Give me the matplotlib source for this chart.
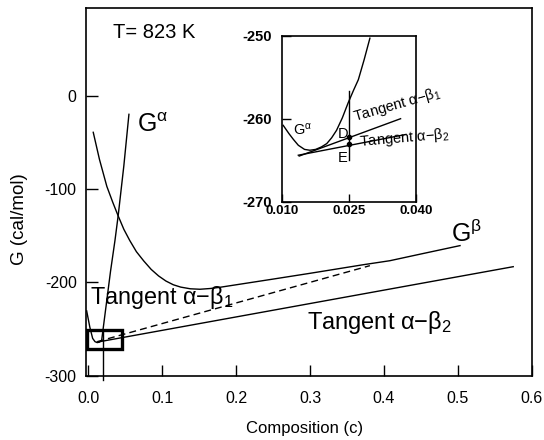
# Gibbs energy curves at 823 K with common tangents, plus zoomed inset.

import matplotlib
matplotlib.use("Agg")
import matplotlib.pyplot as plt
from matplotlib import font_manager
from matplotlib.patches import Rectangle

# --- data ---
# main plot
ga_c = [-0.0023, 0.002, 0.0058, 0.009, 0.012, 0.015, 0.018, 0.024, 0.030, 0.036, 0.0404, 0.048, 0.0549]
ga_g = [-230.5, -248.0, -260.0, -263.5, -264.5, -264.0, -262.0, -225.0, -188.0, -155.0, -128.0, -75.0, -19.7]

gb_c = [0.0066, 0.015, 0.025, 0.033, 0.040, 0.048, 0.056, 0.065, 0.075, 0.085, 0.095,
        0.105, 0.115, 0.125, 0.138, 0.151, 0.165, 0.178, 0.25, 0.30, 0.372, 0.408, 0.45, 0.503]
gb_g = [-39.0, -68.0, -97.0, -114.0, -128.0, -143.0, -155.0, -167.0, -177.0, -186.0, -193.0,
        -198.5, -202.5, -205.0, -206.8, -207.3, -206.5, -205.2, -196.4, -190.2, -181.0, -176.7,
        -169.5, -160.5]

tan1_c = [0.012, 0.381]        # tangent alpha-beta1 (dashed)
tan1_g = [-263.5, -182.0]
tan2_c = [0.012, 0.575]        # tangent alpha-beta2
tan2_g = [-264.0, -183.1]

mark_c = [0.0193, 0.0193]
mark_g = [-252.0, -305.0]

box_c = (-0.0015, 0.045)
box_g = (-271.6, -250.9)

# inset
gai_c = [0.0102, 0.0115, 0.0125, 0.0136, 0.0150, 0.0162, 0.0175, 0.0188, 0.020, 0.0211,
         0.0222, 0.0235, 0.0248, 0.026, 0.0271, 0.0284, 0.0297]
gai_g = [-260.8, -261.8, -262.5, -263.2, -263.7, -263.8, -263.7, -263.4, -263.0, -262.3,
         -261.4, -259.9, -258.1, -256.6, -255.3, -252.9, -250.3]
tan1i_c = [0.0138, 0.0366]
tan1i_g = [-264.5, -260.0]
tan2i_c = [0.0136, 0.0378]
tan2i_g = [-264.4, -261.9]
vert_c = [0.025, 0.025]
vert_g = [-256.7, -265.0]
pts_c = [0.025, 0.025]          # D and E
pts_g = [-262.2, -263.1]

xticks = [0.0, 0.1, 0.2, 0.3, 0.4, 0.5, 0.6]
yticks = [0, -100, -200, -300]
xticks_in = [0.010, 0.025, 0.040]
yticks_in = [-250, -260, -270]

names = {f.name for f in font_manager.fontManager.ttflist}
SANS = "Liberation Sans"
NARROW = "Liberation Sans Narrow" if "Liberation Sans Narrow" in names else SANS

plt.rcParams["font.family"] = [SANS, "DejaVu Sans"]
plt.rcParams["mathtext.default"] = "regular"

fig = plt.figure(figsize=(5.44, 4.4), dpi=100)
W, H = 544, 440
ax = fig.add_axes([86 / W, 1 - 375.7 / H, (531.7 - 86) / W, (375.7 - 8) / H])

lw = 1.0
ax.plot(ga_c, ga_g, color="k", lw=lw)
ax.plot(gb_c, gb_g, color="k", lw=lw)
ax.plot(tan1_c, tan1_g, color="k", lw=lw, linestyle=(0, (5, 3)))
ax.plot(tan2_c, tan2_g, color="k", lw=lw)
ax.plot(mark_c, mark_g, color="k", lw=lw, clip_on=False)
ax.add_patch(Rectangle((box_c[0], box_g[0]), box_c[1] - box_c[0], box_g[1] - box_g[0],
                       fill=False, ec="k", lw=2.4, zorder=5))

ax.set_xlim(-0.0032, 0.5996)
ax.set_ylim(-300, 94.3)
ax.set_xticks(xticks)
ax.set_xticklabels([f"{t:.1f}" for t in xticks])
ax.set_yticks(yticks)
ax.set_yticklabels([str(t) for t in yticks])
ax.tick_params(axis="x", direction="in", length=7.7, width=1.0, pad=11, labelsize=11.5)
ax.tick_params(axis="y", direction="in", length=8.6, width=1.0, pad=6.7, labelsize=11.5)
for s in ax.spines.values():
    s.set_linewidth(1.2)

ax.text(0.0333, 62, "T= 823 K", fontsize=14.5, va="baseline")
ax.text(0.0653, -39, r"G$^{\alpha}$", fontsize=18, va="baseline")
ax.text(0.4914, -157, r"G$^{\beta}$", fontsize=18, va="baseline")
ax.text(0.0022, -223, r"Tangent α−β$_1$", fontsize=16.8, va="baseline", family=NARROW)
ax.text(0.2953, -249.8, r"Tangent α−β$_2$", fontsize=17, va="baseline", family=NARROW)

fig.text(305 / W, 1 - 428 / H, "Composition (c)", fontsize=12, ha="center", va="center",
         family=NARROW)
fig.text(20 / W, 1 - 219 / H, "G (cal/mol)", fontsize=13.5, ha="center", va="center",
         rotation=90)

# inset
axi = fig.add_axes([282.3 / W, 1 - 201.7 / H, (415.7 - 282.3) / W, (201.7 - 35.7) / H])
axi.plot(gai_c, gai_g, color="k", lw=lw)
axi.plot(tan1i_c, tan1i_g, color="k", lw=lw)
axi.plot(tan2i_c, tan2i_g, color="k", lw=lw)
axi.plot(vert_c, vert_g, color="k", lw=lw)
axi.plot(pts_c, pts_g, "o", color="k", ms=3)
axi.set_xlim(0.010, 0.040)
axi.set_ylim(-270, -250)
axi.set_xticks(xticks_in)
axi.set_xticklabels([f"{t:.3f}" for t in xticks_in], fontweight="bold", family=NARROW)
axi.set_yticks(yticks_in)
axi.set_yticklabels([str(t) for t in yticks_in], fontweight="bold")
axi.tick_params(axis="x", direction="in", length=6, width=1.0, pad=2.6, labelsize=9.5)
axi.tick_params(axis="y", direction="in", length=6.5, width=1.0, pad=7.6, labelsize=10.5)
for s in axi.spines.values():
    s.set_linewidth(1.2)

axi.text(0.01234, -261.96, r"G$^{\alpha}$", fontsize=10.5, va="baseline")
axi.text(0.02236, -262.36, "D", fontsize=10.5, va="baseline")
axi.text(0.02236, -265.18, "E", fontsize=10.5, va="baseline")
axi.text(0.02635, -260.36, r"Tangent α−β$_1$", fontsize=10.5, va="baseline",
         rotation=16, rotation_mode="anchor", family=NARROW, clip_on=False)
axi.text(0.02747, -263.3, r"Tangent α−β$_2$", fontsize=10.5, va="baseline",
         rotation=5, rotation_mode="anchor", family=NARROW, clip_on=False)

fig.savefig("out.png", dpi=100)
